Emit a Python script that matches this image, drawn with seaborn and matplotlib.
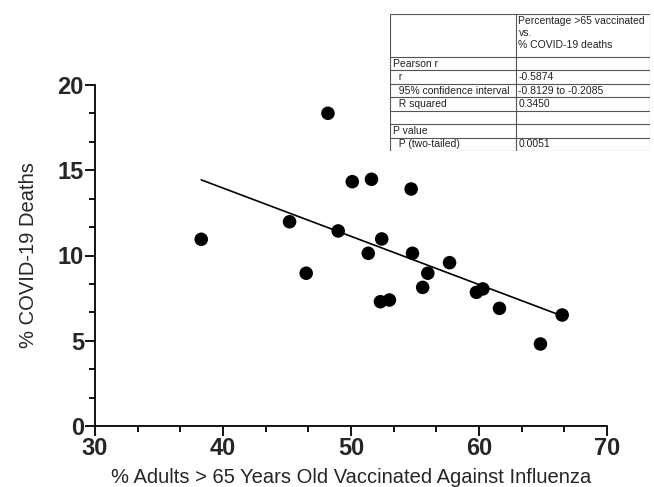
import numpy as np
import pandas as pd
import matplotlib
matplotlib.use("Agg")
import matplotlib.pyplot as plt
from matplotlib.ticker import MultipleLocator
import seaborn as sns

# ---- data ----
vaccinated = [38.3, 45.2, 46.5, 48.2, 49.0, 50.1, 51.6, 51.35, 52.4, 52.3, 53.0,
              54.7, 54.8, 56.0, 55.6, 57.7, 59.8, 60.3, 61.6, 66.5, 64.8]
deaths = [10.95, 11.98, 8.96, 18.34, 11.44, 14.33, 14.47, 10.13, 10.97, 7.29, 7.39,
          13.9, 10.13, 8.96, 8.13, 9.58, 7.84, 8.04, 6.9, 6.51, 4.81]
x_ticks = [30, 40, 50, 60, 70]
y_ticks = [0, 5, 10, 15, 20]
x_label = "% Adults > 65 Years Old Vaccinated Against Influenza"
y_label = "% COVID-19 Deaths"

table_header = ["", "Percentage >65 vaccinated\nvs.\n% COVID-19 deaths"]
table_left = ["Pearson r", "  r", "  95% confidence interval", "  R squared", "",
              "P value", "  P (two-tailed)"]
table_right = ["", "-0.5874", "-0.8129 to -0.2085", "0.3450", "", "", "0.0051"]

df = pd.DataFrame({"x": vaccinated, "y": deaths})

sns.set_style("ticks")
plt.rcParams['font.family'] = ['Liberation Sans', 'DejaVu Sans']

W, H = 654, 487
fig = plt.figure(figsize=(W / 100, H / 100), dpi=100)
ax = fig.add_axes([95 / W, 1 - 426 / H, (607 - 95) / W, (426 - 85) / H])

sns.regplot(data=df, x="x", y="y", scatter=False, ci=None, ax=ax,
            line_kws=dict(color="black", lw=1.2))
sns.scatterplot(data=df, x="x", y="y", ax=ax, s=95, color="black",
                edgecolor="none", zorder=3)

ax.set_xlim(30, 70)
ax.set_ylim(0, 20)
ax.set_xticks(x_ticks)
ax.set_yticks(y_ticks)
ax.xaxis.set_minor_locator(MultipleLocator(10 / 3))
ax.yaxis.set_minor_locator(MultipleLocator(5 / 3))
ax.tick_params(axis="both", which="major", length=7, width=1.3, labelsize=17,
               pad=1, color="black")
ax.tick_params(axis="both", which="minor", length=4, width=1.3, color="black")
for lab in ax.get_xticklabels() + ax.get_yticklabels():
    lab.set_fontweight("bold")
for sp in ["left", "bottom"]:
    ax.spines[sp].set_linewidth(1.3)
    ax.spines[sp].set_color("black")
sns.despine(ax=ax)
ax.set_xlabel(x_label, fontsize=14.5, labelpad=6)
ax.set_ylabel(y_label, fontsize=14.5, labelpad=14)

# ---- table ----
tx0, tx1, ty0, ty1 = 390, 650, 14, 151
tax = fig.add_axes([tx0 / W, 1 - ty1 / H, (tx1 - tx0) / W, (ty1 - ty0) / H])
tax.set_xlim(tx0, tx1)
tax.set_ylim(ty1, ty0)
tax.axis("off")
col_div = 515.5
header_bottom = 57
row_h = (ty1 - header_bottom) / len(table_left)
lc = "#555555"
tax.plot([tx0, tx1, tx1, tx0, tx0], [ty0, ty0, ty1, ty1, ty0], color=lc, lw=0.8)
tax.plot([col_div, col_div], [ty0, ty1], color=lc, lw=0.8)
tax.plot([tx0, tx1], [header_bottom, header_bottom], color=lc, lw=0.8)
tax.text(col_div + 3, ty0 + 2, table_header[1], fontsize=7.5, va="top",
         ha="left", linespacing=1.25, color="#222222")
for i, (l, r) in enumerate(zip(table_left, table_right)):
    y0 = header_bottom + i * row_h
    if i > 0:
        tax.plot([tx0, tx1], [y0, y0], color=lc, lw=0.8)
    yc = y0 + row_h / 2
    tax.text(tx0 + 3, yc, l, fontsize=7.5, va="center", ha="left", color="#222222")
    tax.text(col_div + 3, yc, r, fontsize=7.5, va="center", ha="left", color="#222222")

fig.savefig("out.png", dpi=100)
